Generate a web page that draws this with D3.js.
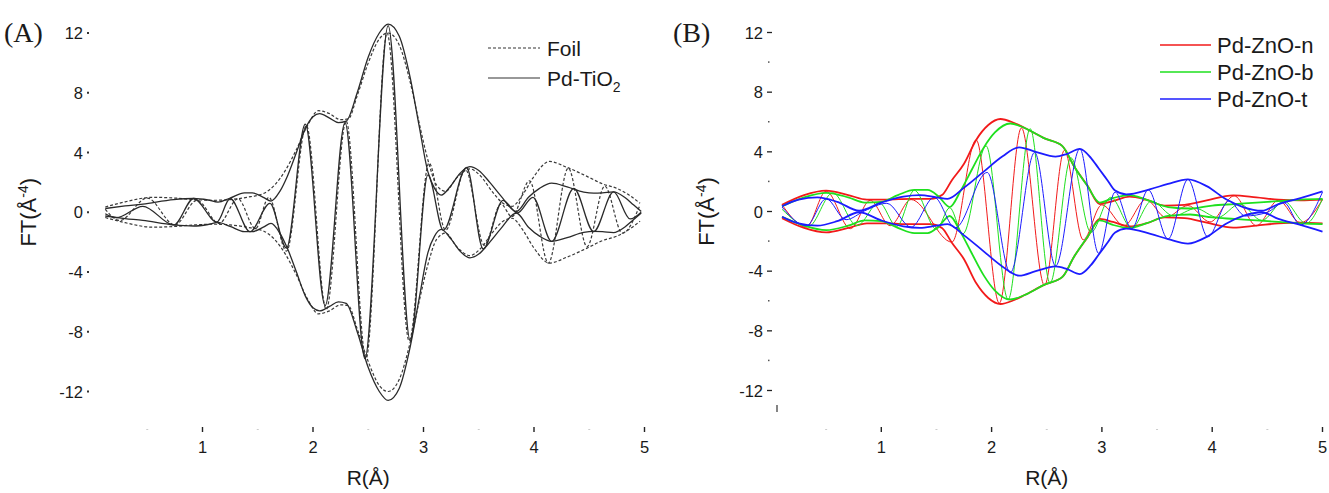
<!DOCTYPE html>
<html><head><meta charset="utf-8">
<script src="https://cdn.jsdelivr.net/npm/d3@7"></script>
<style>
html,body{margin:0;padding:0;background:#fff;}
svg{display:block;}
text{font-family:"Liberation Sans",Arial,sans-serif;fill:#1a1a1a;}
</style></head>
<body>
<svg id="chart" width="1329" height="493"></svg>
<script>
// ---------- data ----------
const xTicks = [1, 2, 3, 4, 5];
const xMinor = [0.5, 1.5, 2.5, 3.5, 4.5];
const yTicks = [-12, -8, -4, 0, 4, 8, 12];
const yMinorB = [-10, -6, -2, 2, 6, 10];

// Panel A: Foil (dashed) and Pd-TiO2 (solid): |FT| envelope and Im part, [R, value]
const foilMag = [[0.12,0.35],[0.3,0.7],[0.55,1.0],[0.75,0.95],[0.92,0.85],[1.1,0.8],[1.25,0.85],[1.4,1.0],[1.55,1.25],[1.65,1.8],[1.75,2.8],[1.85,4.2],[1.95,5.8],[2.05,6.8],[2.15,6.6],[2.25,6.2],[2.32,6.25],[2.4,7.8],[2.5,10.0],[2.6,11.6],[2.68,12.0],[2.78,11.2],[2.88,8.7],[2.96,6.0],[3.04,3.5],[3.12,1.8],[3.2,1.4],[3.3,2.3],[3.42,2.9],[3.52,2.4],[3.62,1.4],[3.72,0.6],[3.8,0.4],[3.9,1.2],[4.0,2.4],[4.14,3.4],[4.3,3.0],[4.48,2.4],[4.62,1.9],[4.75,1.6],[4.85,1.2],[4.96,0.6]];
const foilIm = [[0.12,0.2],[0.25,-0.55],[0.5,0.95],[0.75,-0.85],[0.95,0.8],[1.15,-0.75],[1.32,0.9],[1.48,-1.1],[1.6,1.0],[1.76,-2.6],[1.94,5.8],[2.12,-6.5],[2.3,6.1],[2.48,-9.8],[2.67,12.0],[2.87,-8.6],[3.05,3.3],[3.2,-1.2],[3.38,2.85],[3.55,-2.2],[3.7,0.55],[3.8,-0.3],[3.96,2.1],[4.13,-3.4],[4.31,2.95],[4.48,-2.3],[4.64,1.75],[4.8,-1.4],[4.96,0.5]];
const tio2Mag = [[0.12,0.25],[0.3,0.42],[0.46,0.55],[0.74,0.85],[0.92,0.92],[1.05,0.82],[1.14,0.68],[1.25,0.95],[1.38,1.3],[1.45,1.3],[1.55,1.0],[1.62,0.75],[1.7,1.4],[1.77,2.45],[1.85,4.0],[1.93,5.6],[2.0,6.4],[2.06,6.6],[2.15,6.3],[2.23,6.0],[2.3,6.1],[2.4,8.0],[2.5,10.4],[2.6,12.0],[2.68,12.6],[2.78,11.8],[2.88,9.0],[2.96,5.8],[3.04,2.7],[3.1,1.6],[3.16,1.15],[3.25,1.8],[3.33,2.6],[3.42,3.05],[3.5,2.8],[3.6,2.0],[3.7,1.1],[3.84,0.05],[3.95,1.0],[4.05,1.6],[4.16,1.95],[4.3,1.7],[4.45,1.35],[4.54,1.28],[4.62,1.3],[4.72,1.36],[4.82,1.0],[4.9,0.5],[4.97,0.05]];
const tio2Im = [[0.12,-0.1],[0.22,-0.36],[0.46,0.4],[0.74,-0.85],[0.92,0.92],[1.13,-0.65],[1.25,0.92],[1.43,-1.3],[1.61,0.6],[1.76,-2.4],[1.93,5.9],[2.11,-6.25],[2.29,6.0],[2.47,-9.8],[2.68,12.5],[2.88,-8.6],[3.04,2.5],[3.18,-1.2],[3.39,3.0],[3.54,-2.45],[3.72,0.8],[3.85,-0.05],[3.99,1.0],[4.16,-1.95],[4.36,1.6],[4.54,-1.3],[4.72,1.36],[4.87,-0.45],[4.97,0]];

// Panel B: Pd-ZnO-n (red), Pd-ZnO-b (green), Pd-ZnO-t (blue)
const nMag = [[0.1,0.45],[0.3,1.1],[0.5,1.4],[0.7,1.1],[0.87,0.8],[1.05,0.8],[1.26,0.85],[1.45,0.85],[1.55,1.1],[1.64,2.1],[1.75,3.2],[1.86,4.8],[1.97,5.8],[2.08,6.2],[2.2,5.95],[2.3,5.6],[2.48,4.9],[2.64,4.4],[2.75,3.0],[2.87,1.72],[2.98,0.5],[3.1,0.7],[3.25,1.0],[3.4,0.8],[3.57,0.4],[3.75,0.45],[3.95,0.75],[4.19,1.08],[4.4,0.95],[4.6,0.8],[4.8,0.75],[5.0,0.8]];
const nIm = [[0.1,0.45],[0.32,-1.05],[0.5,1.36],[0.72,-1.15],[0.9,0.75],[1.08,-0.95],[1.27,0.8],[1.64,-2.05],[1.86,4.8],[2.07,-6.15],[2.27,5.6],[2.48,-4.95],[2.66,4.1],[2.83,-1.9],[3.0,0.45],[3.2,-0.95],[3.4,0.8],[3.58,-0.4],[3.78,0.4],[3.98,-0.7],[4.2,1.05],[4.4,-0.95],[4.6,0.75],[4.8,-0.75],[5.0,0.8]];
const bMag = [[0.1,0.35],[0.3,0.95],[0.5,1.25],[0.7,0.95],[0.85,0.6],[1.0,0.65],[1.15,1.1],[1.3,1.45],[1.42,1.45],[1.52,1.0],[1.62,0.3],[1.72,1.4],[1.82,2.8],[1.93,4.3],[2.03,5.3],[2.17,5.9],[2.3,5.6],[2.48,4.9],[2.64,4.4],[2.75,3.0],[2.87,1.7],[2.98,0.6],[3.1,0.9],[3.25,1.1],[3.4,0.8],[3.6,0.3],[3.8,0.2],[4.0,0.4],[4.2,0.5],[4.4,0.6],[4.6,0.7],[4.8,0.8],[5.0,0.85]];
const bIm = [[0.1,0.15],[0.34,-1.0],[0.56,1.25],[0.78,-0.95],[0.98,0.6],[1.14,-1.0],[1.3,1.42],[1.5,-1.2],[1.62,0.25],[1.74,-1.5],[1.95,4.4],[2.15,-5.9],[2.35,5.55],[2.53,-4.8],[2.72,3.6],[2.9,-1.4],[3.08,0.95],[3.27,-1.1],[3.45,0.7],[3.65,-0.3],[3.85,0.2],[4.05,-0.4],[4.25,0.5],[4.45,-0.6],[4.65,0.7],[4.85,-0.8],[5.0,0.85]];
const tMag = [[0.1,0.35],[0.25,0.8],[0.42,0.95],[0.6,0.65],[0.8,0.05],[1.0,0.6],[1.2,1.0],[1.35,1.1],[1.5,0.95],[1.6,0.85],[1.75,1.6],[1.92,2.62],[2.1,3.7],[2.25,4.3],[2.4,4.0],[2.58,3.68],[2.68,3.85],[2.8,4.2],[2.9,3.6],[2.97,2.9],[3.05,2.1],[3.12,1.4],[3.22,1.15],[3.44,1.5],[3.6,1.85],[3.78,2.15],[3.95,1.7],[4.13,0.8],[4.28,0.3],[4.45,0.05],[4.6,0.5],[4.8,0.9],[5.0,1.35]];
const tIm = [[0.1,0.3],[0.32,-0.95],[0.5,0.85],[0.68,-0.55],[0.85,0.05],[1.05,0.55],[1.27,-1.05],[1.48,0.95],[1.67,-1.1],[1.96,2.62],[2.17,-4.1],[2.39,3.96],[2.58,-3.65],[2.8,4.2],[2.97,-2.8],[3.12,1.3],[3.27,-1.15],[3.42,1.45],[3.6,-1.85],[3.78,2.15],[3.96,-1.7],[4.15,0.7],[4.3,-0.3],[4.5,-0.05],[4.65,0.6],[4.8,-0.9],[5.0,1.3]];

const legendA = ["Foil", "Pd-TiO"];
const legendB = ["Pd-ZnO-n", "Pd-ZnO-b", "Pd-ZnO-t"];

// ---------- drawing ----------
const svg = d3.select("#chart");

function panel(opt) {
  const x = d3.scaleLinear().domain([0, 5]).range(opt.xr);
  const y = d3.scaleLinear().domain([-12, 12]).range(opt.yr);
  const g = svg.append("g");

  // y ticks
  yTicks.forEach(t => {
    g.append("text").attr("x", opt.yLabelX).attr("y", y(t) + 6)
      .attr("text-anchor", "end").attr("font-size", 16.5).text(t);
    if (opt.dash) {
      g.append("line").attr("x1", opt.tickX).attr("x2", opt.tickX + 5)
        .attr("y1", y(t)).attr("y2", y(t)).attr("stroke", "#222").attr("stroke-width", 1.3);
    } else {
      g.append("rect").attr("x", opt.tickX).attr("y", y(t) - 1).attr("width", 2).attr("height", 2).attr("fill", "#333");
    }
  });
  if (opt.dash) {
    yMinorB.forEach(t => {
      g.append("rect").attr("x", opt.tickX + 1).attr("y", y(t) - 1).attr("width", 1.5).attr("height", 1.5).attr("fill", "#555");
    });
  }
  // x ticks
  xTicks.forEach(t => {
    g.append("line").attr("x1", x(t)).attr("x2", x(t)).attr("y1", 427).attr("y2", 432)
      .attr("stroke", "#222").attr("stroke-width", 1.4);
    g.append("text").attr("x", x(t)).attr("y", 453).attr("text-anchor", "middle")
      .attr("font-size", 16.5).text(t);
  });
  xMinor.forEach(t => {
    g.append("rect").attr("x", x(t) - 1).attr("y", 429).attr("width", 2).attr("height", 1).attr("fill", "#ccc");
  });
  g.append("text").attr("x", x(2.5)).attr("y", 485).attr("text-anchor", "middle")
    .attr("font-size", 21).text("R(Å)");
  const yl = g.append("text").attr("transform", `translate(${opt.yTitleX},${y(0)}) rotate(-90)`)
    .attr("text-anchor", "middle").attr("font-size", 22);
  yl.append("tspan").text("FT(Å");
  yl.append("tspan").attr("dy", -8).attr("font-size", 14).text("-4");
  yl.append("tspan").attr("dy", 8).text(")");
  g.append("text").attr("x", opt.tagX).attr("y", 42)
    .style("font-family", '"Liberation Serif","Times New Roman",serif')
    .attr("font-size", 28).text(opt.tag);

  const lineP = d3.line().x(d => x(d[0])).y(d => y(d[1])).curve(d3.curveMonotoneX);
  const lineN = d3.line().x(d => x(d[0])).y(d => y(-d[1])).curve(d3.curveMonotoneX);
  const curves = g.append("g").attr("fill", "none").attr("stroke-linejoin", "round");
  opt.series.forEach(s => {
    [lineP(s.mag), lineN(s.mag)].forEach(p => curves.append("path").attr("d", p)
      .attr("stroke", s.color).attr("stroke-width", s.magW).attr("stroke-dasharray", s.dash || null));
    curves.append("path").attr("d", lineP(s.im)).attr("stroke", s.color)
      .attr("stroke-width", s.imW).attr("stroke-dasharray", s.dash || null);
  });
  return {x, y, g};
}

const A = panel({
  xr: [92, 644.5], yr: [391.5, 33], yLabelX: 83, tickX: 87, yTitleX: 36, dash: false,
  tag: "(A)", tagX: 4,
  series: [
    {mag: foilMag, im: foilIm, color: "#3a3a3a", magW: 1.2, imW: 1.2, dash: "3,2"},
    {mag: tio2Mag, im: tio2Im, color: "#2a2a2a", magW: 1.3, imW: 1.3}
  ]
});
const B = panel({
  xr: [771, 1322.5], yr: [390.5, 32.5], yLabelX: 763, tickX: 767, yTitleX: 714, dash: true,
  tag: "(B)", tagX: 673,
  series: [
    {mag: nMag, im: nIm, color: "#f21a1a", magW: 1.8, imW: 1.0},
    {mag: bMag, im: bIm, color: "#1ee01e", magW: 1.8, imW: 1.0},
    {mag: tMag, im: tIm, color: "#1c1cff", magW: 1.8, imW: 1.0}
  ]
});
// stray mark below B axis
B.g.append("line").attr("x1", 777).attr("x2", 777).attr("y1", 405).attr("y2", 412).attr("stroke", "#333").attr("stroke-width", 1.2);

// legends
const lgA = A.g.append("g");
[["3,2", 48], [null, 78]].forEach((d, i) => {
  lgA.append("line").attr("x1", 488).attr("x2", 540).attr("y1", d[1]).attr("y2", d[1])
    .attr("stroke", "#333").attr("stroke-width", 1.2).attr("stroke-dasharray", d[0]);
  const t = lgA.append("text").attr("x", 547).attr("y", d[1] + 8).attr("font-size", 21).text(legendA[i]);
  if (i === 1) t.append("tspan").attr("dy", 6).attr("font-size", 14).text("2");
});
const colorsB = ["#f21a1a", "#1ee01e", "#1c1cff"];
legendB.forEach((name, i) => {
  const yy = 45 + i * 27;
  B.g.append("line").attr("x1", 1160).attr("x2", 1211).attr("y1", yy).attr("y2", yy)
    .attr("stroke", colorsB[i]).attr("stroke-width", 1.3);
  B.g.append("text").attr("x", 1217).attr("y", yy + 8).attr("font-size", 22).text(name);
});
</script>
</body></html>
